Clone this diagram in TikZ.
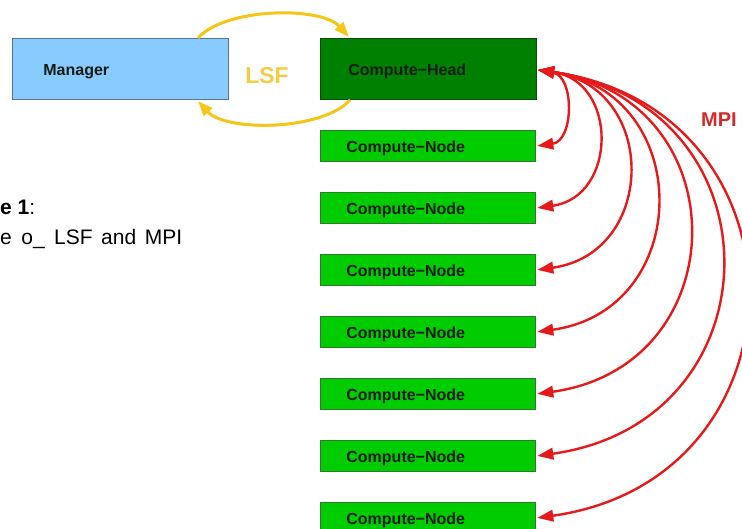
\documentclass[tikz,border=0pt]{standalone}
\usepackage{fontspec}
\setmainfont{Liberation Sans}
\usetikzlibrary{arrows.meta}
\definecolor{mgrfill}{HTML}{88CCFF}
\definecolor{mgrdraw}{HTML}{5A7390}
\definecolor{headfill}{HTML}{008000}
\definecolor{headdraw}{HTML}{0B4F0B}
\definecolor{nodefill}{HTML}{00CC00}
\definecolor{nodedraw}{HTML}{2C7A2C}
\definecolor{lsfyellow}{HTML}{F5C518}
\definecolor{lsftext}{HTML}{F2CD45}
\definecolor{mpired}{HTML}{E61A1A}
\definecolor{mpitext}{HTML}{D42A2A}
\definecolor{darktext}{HTML}{141C14}
\tikzset{
  box/.style={rectangle, anchor=north west, line width=0.8pt, align=left,
    text=darktext, font=\fontsize{16}{19}\selectfont\bfseries,
    text height=13.5pt, text depth=0pt},
  mgrbox/.style={box, fill=mgrfill, draw=mgrdraw, minimum height=61pt,
    text width=154pt, inner xsep=31pt, inner ysep=0pt},
  headbox/.style={box, fill=headfill, draw=headdraw, minimum height=61pt,
    text width=160pt, inner xsep=28pt, inner ysep=0pt},
  cnbox/.style={box, fill=nodefill, draw=nodedraw, minimum height=31pt,
    text width=163pt, inner xsep=26pt, inner ysep=0pt},
  lsf/.style={draw=lsfyellow, line width=3pt, -{Triangle[length=15pt,width=11pt]}},
  mpi/.style={draw=mpired, line width=2.4pt,
    {Triangle[length=16pt,width=11.5pt]}-{Triangle[length=16pt,width=11.5pt]}},
}
\begin{document}
\begin{tikzpicture}[x=1pt,y=1pt]
\useasboundingbox (0,0) rectangle (742,-529);
\clip (0,0) rectangle (742,-529);
\fill[white] (0,0) rectangle (742,-529);

\node[mgrbox] (m) at (12,-38) {Manager};
\node[headbox] (hd) at (320,-38) {Compute−Head};
\foreach \i/\y in {1/130,2/192,3/254,4/316,5/378,6/440,7/502}{
  \node[cnbox] (n\i) at (320,-\y) {Compute−Node};
}

% LSF arcs
\coordinate (mt) at (198,-38);
\coordinate (ht) at (349,-37);
\coordinate (hb) at (350,-100);
\coordinate (mb) at (198,-101);
\draw[lsf] (mt) to[out=48,in=132,looseness=0.7] (ht);
\draw[lsf] (hb) to[out=-132,in=-48,looseness=0.7] (mb);
\node[text=lsftext, font=\fontsize{23}{26}\selectfont\bfseries] (lsflabel) at (267,-76) {LSF};

% MPI arcs
\coordinate (hs) at (538,-70);
\draw[mpi] (hs) to[out=-10,in=8,looseness=1.25] ([xshift=1.5pt]n1.east);
\foreach \i/\l in {2/1.5,3/1.55,4/1.55,5/1.6,6/1.63,7/1.6}{
  \draw[mpi] (hs) to[out=-8,in=8,looseness=\l] ([xshift=1.5pt]n\i.east);
}
\node[text=mpitext, font=\fontsize{20}{24}\selectfont\bfseries] (mpilabel) at (719,-120) {MPI};

% caption fragment
\node[anchor=base west, inner sep=0pt, font=\fontsize{21}{25}\selectfont] (cap1) at (0,-215) {\textbf{e 1}:};
\node[anchor=base west, inner sep=0pt, font=\fontsize{21}{25}\selectfont] (cap2) at (0,-245)
  {e\hspace{9.5pt}o\_\hspace{9.5pt}LSF\hspace{8.5pt}and\hspace{8.5pt}MPI};
\end{tikzpicture}
\end{document}
